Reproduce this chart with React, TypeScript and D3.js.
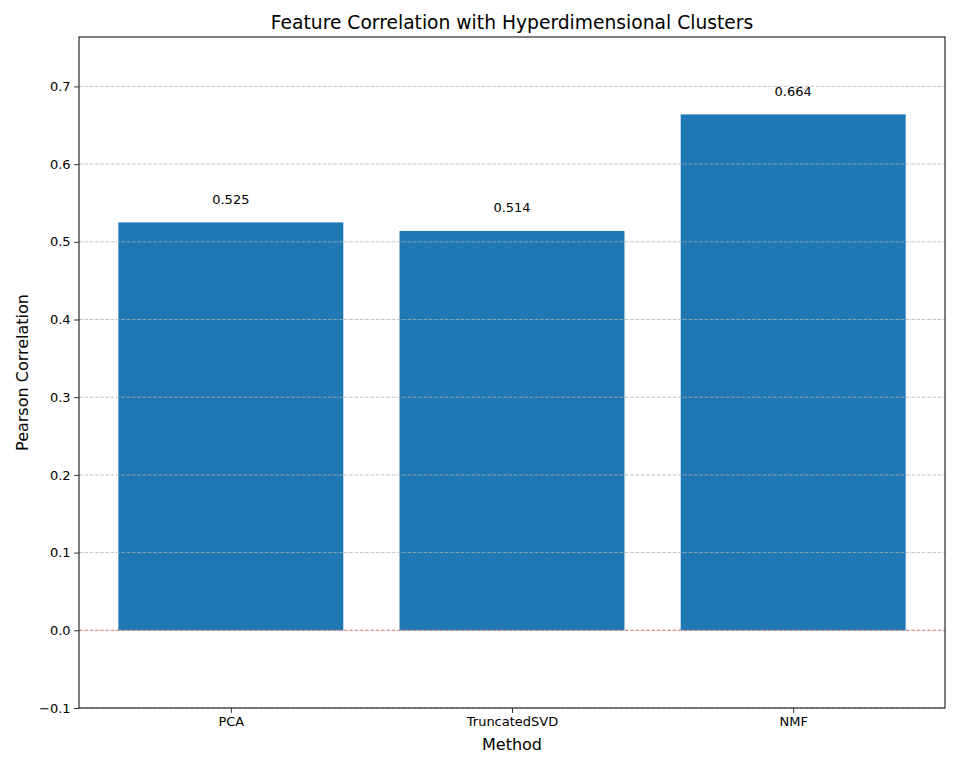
import React, { useEffect, useRef } from 'react';
import * as d3 from 'd3';

const methods = ['PCA', 'TruncatedSVD', 'NMF'];
const correlations = [0.525, 0.514, 0.664];
const yTicks = [-0.1, 0, 0.1, 0.2, 0.3, 0.4, 0.5, 0.6, 0.7];

const width = 960;
const height = 768;

const App: React.FC = () => {
  const svgRef = useRef<SVGSVGElement | null>(null);

  useEffect(() => {
    if (!svgRef.current) return;
    const margin = { top: 37, right: 15, bottom: 60, left: 79 };
    const innerWidth = width - margin.left - margin.right;
    const innerHeight = height - margin.top - margin.bottom;

    const svg = d3.select(svgRef.current);
    svg.selectAll('*').remove();
    svg.append('rect').attr('width', width).attr('height', height).attr('fill', 'white');

    const xScale = d3.scaleLinear().domain([-0.54, 2.54]).range([0, innerWidth]);
    const yMax = (d3.max(correlations) || 1) * 1.15;
    const yScale = d3.scaleLinear().domain([-0.1, yMax]).range([innerHeight, 0]);

    const g = svg.append('g').attr('transform', `translate(${margin.left},${margin.top})`);
    const font = 'DejaVu Sans, sans-serif';

    // bars
    g.selectAll('rect.bar')
      .data(correlations)
      .enter()
      .append('rect')
      .attr('class', 'bar')
      .attr('x', (_, i) => xScale(i - 0.4))
      .attr('width', xScale(0.8) - xScale(0))
      .attr('y', (d) => yScale(d))
      .attr('height', (d) => yScale(0) - yScale(d))
      .attr('fill', '#1f77b4');

    // grid over bars
    g.selectAll('line.grid')
      .data(yTicks)
      .enter()
      .append('line')
      .attr('x1', 0)
      .attr('x2', innerWidth)
      .attr('y1', (d) => yScale(d))
      .attr('y2', (d) => yScale(d))
      .attr('stroke', '#b0b0b0')
      .attr('stroke-opacity', 0.85)
      .attr('stroke-dasharray', '3.7,1.6')
      .attr('stroke-width', 0.9);

    // zero line
    g.append('line')
      .attr('x1', 0)
      .attr('x2', innerWidth)
      .attr('y1', yScale(0))
      .attr('y2', yScale(0))
      .attr('stroke', 'red')
      .attr('stroke-opacity', 0.35)
      .attr('stroke-dasharray', '3.7,1.6')
      .attr('stroke-width', 1);

    // value labels
    g.selectAll('text.val')
      .data(correlations)
      .enter()
      .append('text')
      .attr('x', (_, i) => xScale(i))
      .attr('y', (d) => yScale(d + 0.02))
      .attr('dy', '-0.25em')
      .attr('text-anchor', 'middle')
      .attr('font-family', font)
      .attr('font-size', 13)
      .text((d) => d.toFixed(3));

    // axes
    const xAxis = g.append('g')
      .attr('transform', `translate(0,${innerHeight})`)
      .call(
        d3.axisBottom(xScale)
          .tickValues(methods.map((_, i) => i))
          .tickFormat((d) => methods[d as number])
          .tickSize(4.9)
          .tickPadding(3.5)
      );
    const yAxis = g.append('g').call(
      d3.axisLeft(yScale)
        .tickValues(yTicks)
        .tickFormat((d) => d3.format('.1f')(d as number).replace('-', '\u2212'))
        .tickSize(4.9)
        .tickPadding(3.5)
    );
    [xAxis, yAxis].forEach((ax) => {
      ax.select('.domain').remove();
      ax.selectAll('text').attr('font-family', font).attr('font-size', 13).attr('fill', 'black');
      ax.selectAll('.tick line').attr('stroke', 'black').attr('stroke-width', 0.8);
    });

    // frame
    g.append('rect')
      .attr('width', innerWidth)
      .attr('height', innerHeight)
      .attr('fill', 'none')
      .attr('stroke', 'black')
      .attr('stroke-width', 1);

    svg.append('text')
      .attr('x', margin.left + innerWidth / 2)
      .attr('y', 29)
      .attr('text-anchor', 'middle')
      .attr('font-family', font)
      .attr('font-size', 18.7)
      .text('Feature Correlation with Hyperdimensional Clusters');

    svg.append('text')
      .attr('x', margin.left + innerWidth / 2)
      .attr('y', 750)
      .attr('text-anchor', 'middle')
      .attr('font-family', font)
      .attr('font-size', 16)
      .text('Method');

    svg.append('text')
      .attr('transform', `translate(28,${margin.top + innerHeight / 2}) rotate(-90)`)
      .attr('text-anchor', 'middle')
      .attr('font-family', font)
      .attr('font-size', 16)
      .text('Pearson Correlation');
  }, []);

  return <svg ref={svgRef} width={width} height={height} style={{ display: 'block', margin: -8 }} />;
};

export default App;
